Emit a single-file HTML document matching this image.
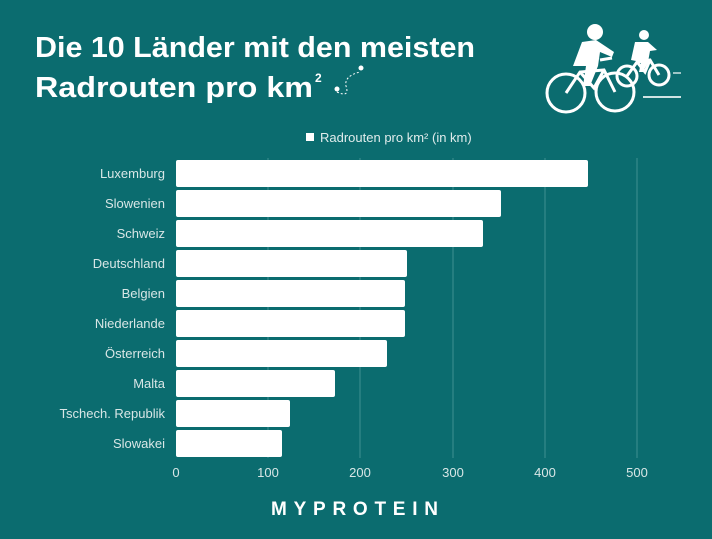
<!DOCTYPE html>
<html><head><meta charset="utf-8"><style>
body{margin:0;width:712px;height:534px;background:#0b6c6f;overflow:hidden;font-family:"Liberation Sans",sans-serif}
</style></head><body>
<svg width="712" height="534" xmlns="http://www.w3.org/2000/svg">
<rect width="712" height="534" fill="#0b6c6f"/>
<text x="35" y="57" fill="#fff" font-size="29" font-weight="bold" textLength="440" lengthAdjust="spacingAndGlyphs" font-family="Liberation Sans, sans-serif">Die 10 Länder mit den meisten</text>
<text x="35" y="97" fill="#fff" font-size="29" font-weight="bold" textLength="278" lengthAdjust="spacingAndGlyphs" font-family="Liberation Sans, sans-serif">Radrouten pro km</text>
<text x="315" y="82" fill="#fff" font-size="12" font-weight="bold">2</text>
<g fill="none" stroke="#fff" stroke-width="1" stroke-dasharray="2,2">
<path d="M337 92 Q350 98 346 86 Q344 76 360 72"/></g>
<circle cx="337" cy="89" r="2.5" fill="#fff"/><circle cx="361" cy="68" r="2.5" fill="#fff"/>
<!-- cyclists -->
<g stroke="#fff" fill="none" stroke-width="3">
<circle cx="566" cy="93" r="19"/><circle cx="615" cy="92" r="19"/>
<circle cx="627" cy="76" r="10"/><circle cx="659" cy="75" r="10"/>
<path d="M566 93 L580 72 L604 70 L615 92 M580 72 L594 88 L604 70 M600 60 L612 58"/>
<path d="M627 76 L637 62 L650 60 L659 75 M637 62 L645 72 L650 60"/>
</g>
<circle cx="595" cy="32" r="8" fill="#fff"/>
<path d="M582 42 L596 40 L614 52 L612 57 L600 52 L598 66 L590 86 L583 86 L586 66 L573 66 Z" fill="#fff"/>
<circle cx="644" cy="35" r="5" fill="#fff"/>
<path d="M635 42 L648 42 L657 50 L650 51 L648 62 L643 72 L639 72 L641 62 L631 60 Z" fill="#fff"/>
<line x1="643" y1="97" x2="681" y2="97" stroke="#cfe3e3" stroke-width="2"/>
<line x1="673" y1="73" x2="681" y2="73" stroke="#cfe3e3" stroke-width="1.5"/>
<!-- legend -->
<rect x="306" y="133" width="8" height="8" fill="#fff"/>
<text x="320" y="142" fill="#e0ecec" font-size="13">Radrouten pro km² (in km)</text>
<!-- grid -->
<g stroke="#3f8f91" stroke-width="1">
<line x1="268" y1="158" x2="268" y2="458"/><line x1="360" y1="158" x2="360" y2="458"/>
<line x1="453" y1="158" x2="453" y2="458"/><line x1="545" y1="158" x2="545" y2="458"/>
<line x1="637" y1="158" x2="637" y2="458"/></g>
<g fill="#fff">
<rect x="176" y="160" width="412" height="27" rx="2"/>
<rect x="176" y="190" width="325" height="27" rx="2"/>
<rect x="176" y="220" width="307" height="27" rx="2"/>
<rect x="176" y="250" width="231" height="27" rx="2"/>
<rect x="176" y="280" width="229" height="27" rx="2"/>
<rect x="176" y="310" width="229" height="27" rx="2"/>
<rect x="176" y="340" width="211" height="27" rx="2"/>
<rect x="176" y="370" width="159" height="27" rx="2"/>
<rect x="176" y="400" width="114" height="27" rx="2"/>
<rect x="176" y="430" width="106" height="27" rx="2"/>
</g>
<g fill="#d8e6e6" font-size="13" text-anchor="end">
<text x="165" y="178">Luxemburg</text><text x="165" y="208">Slowenien</text>
<text x="165" y="238">Schweiz</text><text x="165" y="268">Deutschland</text>
<text x="165" y="298">Belgien</text><text x="165" y="328">Niederlande</text>
<text x="165" y="358">Österreich</text><text x="165" y="388">Malta</text>
<text x="165" y="418">Tschech. Republik</text><text x="165" y="448">Slowakei</text>
</g>
<g fill="#d8e6e6" font-size="13" text-anchor="middle">
<text x="176" y="477">0</text><text x="268" y="477">100</text><text x="360" y="477">200</text>
<text x="453" y="477">300</text><text x="545" y="477">400</text><text x="637" y="477">500</text>
</g>
<text x="271" y="515" fill="#fff" font-size="19" font-weight="bold" textLength="167" lengthAdjust="spacing">MYPROTEIN</text>
</svg>
</body></html>
